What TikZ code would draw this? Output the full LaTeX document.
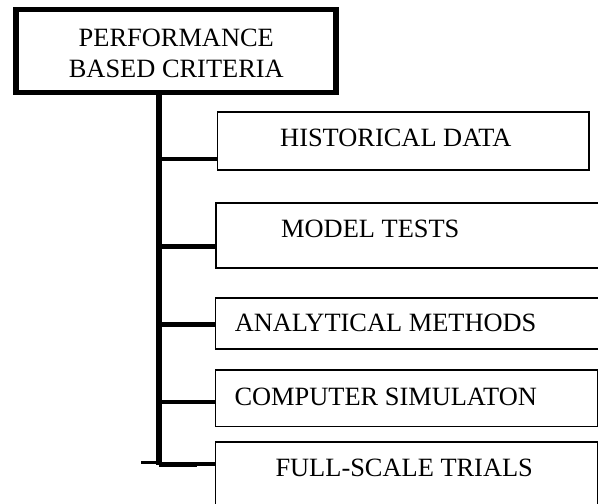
\documentclass[tikz,border=0pt]{standalone}
\usepackage{fontspec}
\setmainfont{Liberation Serif}
\begin{document}
\begin{tikzpicture}[x=1pt,y=-1pt,
  box/.style={draw=black, line width=1.8pt, rectangle, inner sep=0pt, anchor=north west},
  headbox/.style={draw=black, line width=5.6pt, rectangle, inner sep=0pt},
  lbl/.style={inner sep=0pt, anchor=base west, font=\fontsize{26.4}{30.6}\selectfont},
  headlbl/.style={inner sep=0pt, anchor=base, font=\fontsize{26.4}{30.6}\selectfont},
  trunkline/.style={line width=6pt},
  branch/.style={line width=4.3pt},
  stubline/.style={line width=3pt},
  knotline/.style={line width=5pt}]
\useasboundingbox (0,0) rectangle (598,504);
\begin{scope}
\clip (0,0) rectangle (598,504);
% head box
\node[headbox, minimum width=319.8pt, minimum height=83pt] (top) at (176.1,51) {};
\node[headlbl] (perf) at (176.3,46.7) {PERFORMANCE};
\node[headlbl] (based) at (176.3,77.3) {BASED CRITERIA};
% child boxes
\node[box, minimum width=371.3pt, minimum height=57.6pt] (hist) at (216.5,111.2) {};
\node[box, minimum width=395pt, minimum height=65.5pt] (model) at (215.2,201.8) {};
\node[box, minimum width=395pt, minimum height=51pt] (anal) at (214.6,296.7) {};
\node[box, minimum width=382.1pt, minimum height=56.2pt] (comp) at (214.6,369.3) {};
\node[box, minimum width=382pt, minimum height=80pt] (full) at (214.6,441.2) {};
% labels
\node[lbl] (histtext) at (280,146.7) {HISTORICAL DATA};
\node[lbl] (modeltext) at (281,237.3) {MODEL TESTS};
\node[lbl] (analtext) at (234.6,331.7) {ANALYTICAL METHODS};
\node[lbl] (comptext) at (234.3,405) {COMPUTER SIMULATON};
\node[lbl] (fulltext) at (275.3,476.7) {FULL-SCALE TRIALS};
% trunk and junctions
\coordinate (j1) at (158.7,158.8);
\coordinate (j2) at (158.7,246.5);
\coordinate (j3) at (158.7,324.5);
\coordinate (j4) at (158.7,402);
\coordinate (j5) at (158.7,465);
\coordinate (stub) at (141,462.6);
\coordinate (knee) at (197,464.3);
\draw[trunkline] (top.south -| j5) -- (j5);
\draw[branch] (j1) -- (j1 -| hist.west);
\draw[branch] (j2) -- (j2 -| model.west);
\draw[branch] (j3) -- (j3 -| anal.west);
\draw[branch] ([xshift=3pt]j4) -- (j4 -| comp.west);
\draw[stubline] (stub) -- (stub -| j5);
\draw[knotline] (j5 |- knee) -- (knee);
\draw[branch] (knee) -- (knee -| full.west);
\end{scope}
\end{tikzpicture}
\end{document}
